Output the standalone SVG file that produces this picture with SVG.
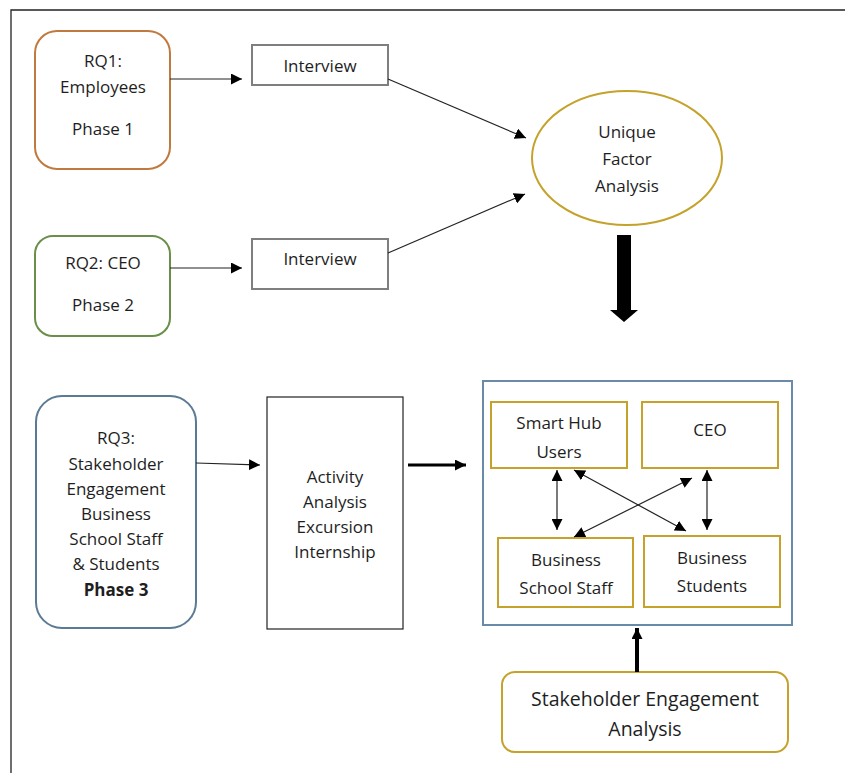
<svg xmlns="http://www.w3.org/2000/svg" width="845" height="773" viewBox="0 0 845 773">
<defs>
<style>
text{font-family:"Open Sans","Liberation Sans",sans-serif;font-size:17px;fill:#1e1e1e;text-anchor:middle}
.big{font-size:19.5px}
.ln{stroke:#222;stroke-width:1.2;fill:none}
.gold{fill:#fff;stroke:#C4A22C;stroke-width:2}
.gray{fill:#fff;stroke:#7f7f7f;stroke-width:2}
</style>
<marker id="ah" viewBox="0 0 10 10" refX="10" refY="5" markerWidth="11" markerHeight="11" markerUnits="userSpaceOnUse" orient="auto-start-reverse">
<path d="M0,0 L10,5 L0,10 Z" fill="#000"/>
</marker>
</defs>
<rect width="845" height="773" fill="#fff"/>
<path d="M11,773 V10 H845" fill="none" stroke="#222" stroke-width="1.3"/>

<g id="rq1">
<rect x="35" y="31" width="135" height="138" rx="22" fill="#fff" stroke="#C07A40" stroke-width="2"/>
<text x="103" y="67">RQ1:</text>
<text x="103" y="93">Employees</text>
<text x="103" y="135">Phase 1</text>
</g>
<g id="interview1">
<rect x="252" y="45" width="136" height="40" class="gray"/>
<text x="320" y="72">Interview</text>
</g>
<g id="ufa">
<ellipse cx="627" cy="158" rx="95" ry="67" class="gold"/>
<text x="627" y="138">Unique</text>
<text x="627" y="165">Factor</text>
<text x="627" y="192">Analysis</text>
</g>
<g id="rq2">
<rect x="35" y="236" width="135" height="100" rx="18" fill="#fff" stroke="#6A8F4A" stroke-width="2"/>
<text x="103" y="269">RQ2: CEO</text>
<text x="103" y="311">Phase 2</text>
</g>
<g id="interview2">
<rect x="252" y="239" width="136" height="50" class="gray"/>
<text x="320" y="265">Interview</text>
</g>
<g id="rq3">
<rect x="36" y="396" width="160" height="232" rx="26" fill="#fff" stroke="#5A7A95" stroke-width="2"/>
<text x="116" y="444">RQ3:</text>
<text x="116" y="470">Stakeholder</text>
<text x="116" y="495">Engagement</text>
<text x="116" y="520">Business</text>
<text x="116" y="545">School Staff</text>
<text x="116" y="570">&amp; Students</text>
<text x="116" y="596" font-weight="bold">Phase 3</text>
</g>
<g id="activity">
<rect x="267" y="397" width="136" height="232" fill="#fff" stroke="#222" stroke-width="1.2"/>
<text x="335" y="483">Activity</text>
<text x="335" y="508">Analysis</text>
<text x="335" y="533">Excursion</text>
<text x="335" y="558">Internship</text>
</g>
<g id="stakeholders">
<rect x="483" y="381" width="309" height="244" fill="#fff" stroke="#6A8BA8" stroke-width="2"/>
</g>
<g id="smarthub">
<rect x="491" y="402" width="136" height="66" class="gold"/>
<text x="559" y="429">Smart Hub</text>
<text x="559" y="458">Users</text>
</g>
<g id="ceo">
<rect x="642" y="402" width="136" height="66" class="gold"/>
<text x="710" y="436">CEO</text>
</g>
<g id="staff">
<rect x="498" y="538" width="135" height="69" class="gold"/>
<text x="566" y="566">Business</text>
<text x="566" y="594">School Staff</text>
</g>
<g id="students">
<rect x="644" y="536" width="136" height="71" class="gold"/>
<text x="712" y="564">Business</text>
<text x="712" y="592">Students</text>
</g>
<g id="sea">
<rect x="502" y="672" width="286" height="80" rx="13" class="gold"/>
<text class="big" x="645" y="706">Stakeholder Engagement</text>
<text class="big" x="645" y="736">Analysis</text>
</g>

<g id="connectors">
<line x1="170" y1="79" x2="242" y2="79" class="ln" marker-end="url(#ah)"/>
<line x1="170" y1="268" x2="242" y2="268" class="ln" marker-end="url(#ah)"/>
<line x1="388" y1="79" x2="526" y2="138" class="ln" marker-end="url(#ah)"/>
<line x1="388" y1="253" x2="525" y2="194" class="ln" marker-end="url(#ah)"/>
<path d="M617,235 H631 V310 H638 L624,322 L610,310 H617 Z" fill="#000"/>
<line x1="196" y1="463" x2="260" y2="465" class="ln" marker-end="url(#ah)"/>
<line x1="408" y1="465" x2="466" y2="465" stroke="#000" stroke-width="3.2" marker-end="url(#ah)"/>
<line x1="557" y1="470" x2="557" y2="530" class="ln" marker-start="url(#ah)" marker-end="url(#ah)"/>
<line x1="707" y1="470" x2="707" y2="530" class="ln" marker-start="url(#ah)" marker-end="url(#ah)"/>
<line x1="574" y1="470" x2="686" y2="531" class="ln" marker-start="url(#ah)" marker-end="url(#ah)"/>
<line x1="692" y1="478" x2="574" y2="537" class="ln" marker-start="url(#ah)" marker-end="url(#ah)"/>
<line x1="637" y1="672" x2="637" y2="628" stroke="#000" stroke-width="4" marker-end="url(#ah)"/>
</g>
</svg>
